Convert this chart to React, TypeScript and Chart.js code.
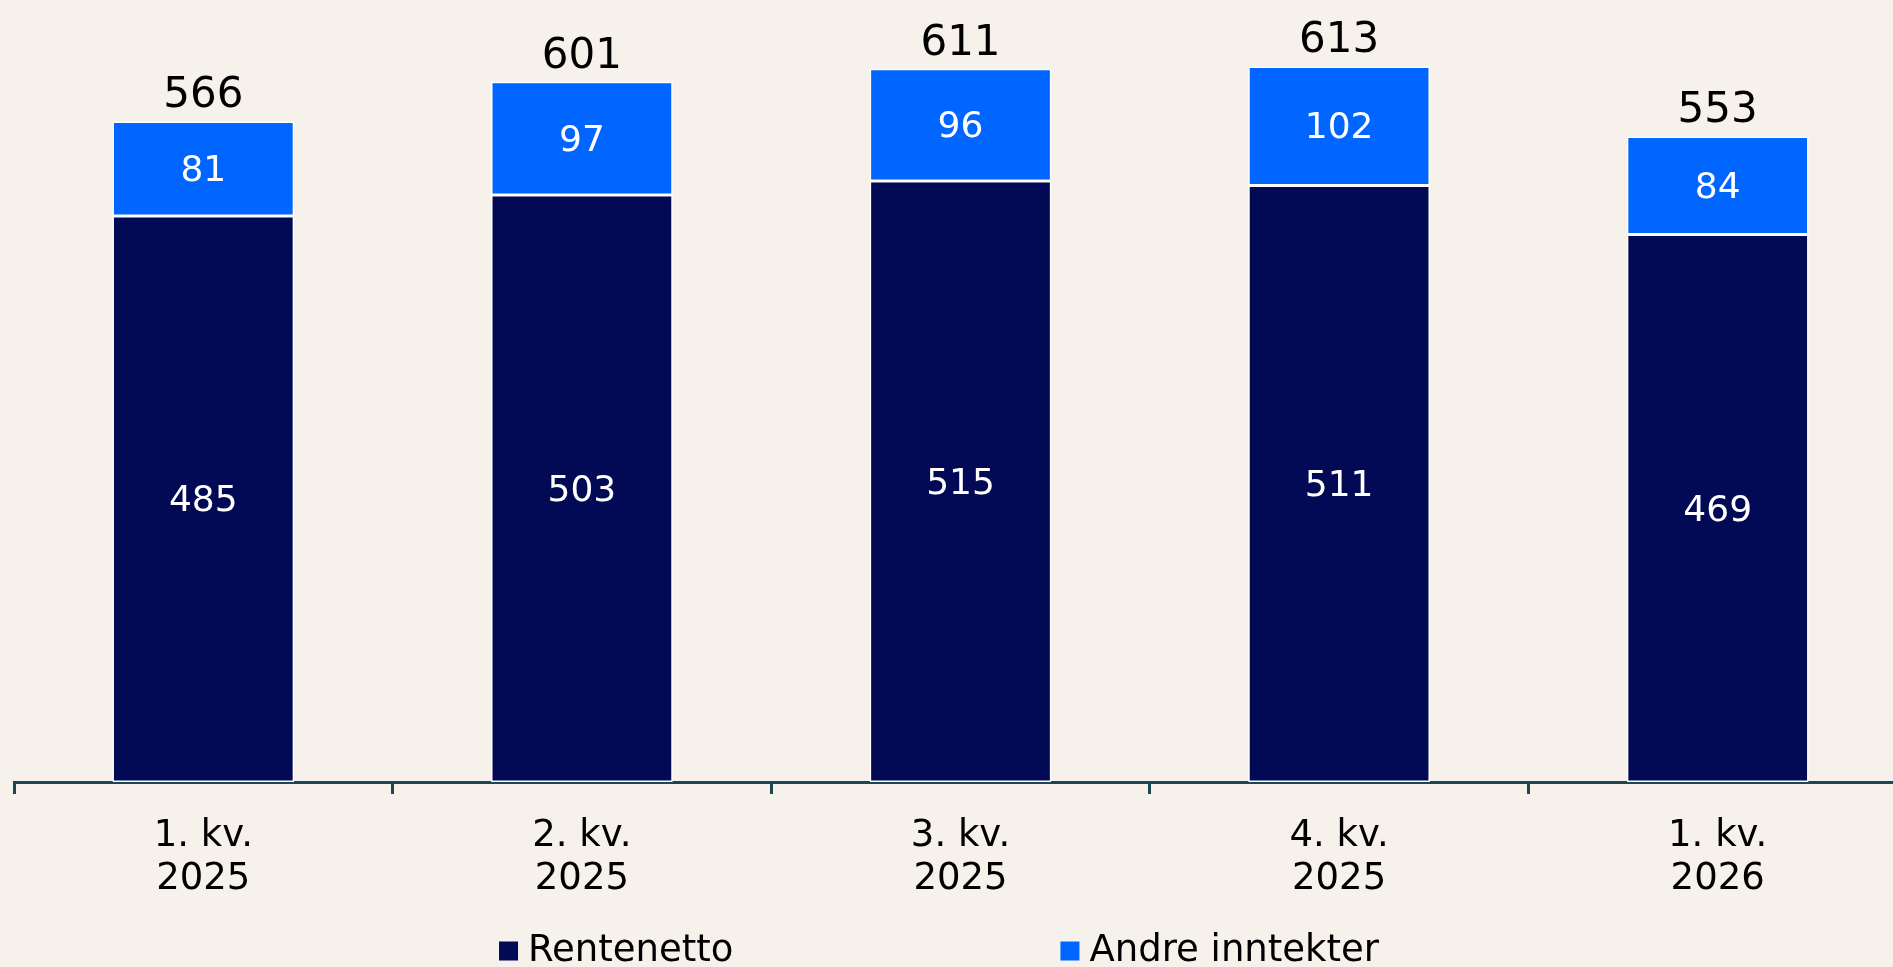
import React, { useEffect, useRef } from "react";
import { Chart, registerables } from "chart.js";

Chart.register(...registerables);

const categories: string[][] = [
  ["1. kv.", "2025"],
  ["2. kv.", "2025"],
  ["3. kv.", "2025"],
  ["4. kv.", "2025"],
  ["1. kv.", "2026"],
];
const rentenetto = [485, 503, 515, 511, 469];
const andreInntekter = [81, 97, 96, 102, 84];
const totals = [566, 601, 611, 613, 553];
const seriesNames = ["Rentenetto", "Andre inntekter"];

const NAVY = "#020a56";
const BLUE = "#0066ff";
const BG = "#f6f2eb";
const AXIS = "#1b4753";
const FONT = "'DejaVu Sans', Verdana, sans-serif";

const valueLabels = {
  id: "valueLabels",
  afterDatasetsDraw(chart: any) {
    const ctx = chart.ctx;
    ctx.save();
    ctx.textAlign = "center";
    ctx.textBaseline = "middle";
    chart.data.datasets.forEach((ds: any, i: number) => {
      const meta = chart.getDatasetMeta(i);
      meta.data.forEach((bar: any, j: number) => {
        const p = bar.getProps(["x", "y", "base"], true);
        ctx.fillStyle = "#ffffff";
        ctx.font = `36px ${FONT}`;
        ctx.fillText(String(ds.data[j]), p.x, (p.y + p.base) / 2 + 3);
      });
    });
    const last = chart.getDatasetMeta(chart.data.datasets.length - 1);
    last.data.forEach((bar: any, j: number) => {
      const p = bar.getProps(["x", "y"], true);
      ctx.fillStyle = "#000000";
      ctx.font = `42px ${FONT}`;
      ctx.fillText(String(totals[j]), p.x, p.y - 25);
    });
    ctx.restore();
  },
};

const customLegend = {
  id: "customLegend",
  afterDraw(chart: any) {
    const ctx = chart.ctx;
    ctx.save();
    ctx.font = `37px ${FONT}`;
    ctx.textBaseline = "middle";
    ctx.textAlign = "left";
    const box = 19;
    const gapText = 10;
    const gapItems = 327;
    const colors = [NAVY, BLUE];
    const widths = seriesNames.map((n) => box + gapText + ctx.measureText(n).width);
    const total = widths.reduce((a, b) => a + b, 0) + gapItems;
    let x = 939 - total / 2;
    const yc = 951;
    seriesNames.forEach((n, i) => {
      ctx.fillStyle = colors[i];
      ctx.fillRect(x, yc - box / 2, box, box);
      ctx.fillStyle = "#000000";
      ctx.fillText(n, x + box + gapText, yc);
      x += widths[i] + gapItems;
    });
    ctx.restore();
  },
};

export default function App() {
  const ref = useRef<HTMLCanvasElement | null>(null);
  useEffect(() => {
    if (!ref.current) return;
    const chart = new Chart(ref.current, {
      type: "bar",
      data: {
        labels: categories,
        datasets: [
          {
            label: seriesNames[0],
            data: rentenetto,
            backgroundColor: NAVY,
            borderColor: "#ffffff",
            borderWidth: 1.5,
            borderSkipped: false,
            categoryPercentage: 1,
            barPercentage: 0.48,
          },
          {
            label: seriesNames[1],
            data: andreInntekter,
            backgroundColor: BLUE,
            borderColor: "#ffffff",
            borderWidth: 1.5,
            borderSkipped: false,
            categoryPercentage: 1,
            barPercentage: 0.48,
          },
        ],
      },
      options: {
        animation: false,
        responsive: false,
        maintainAspectRatio: false,
        layout: { padding: { left: 14, right: 3, top: 0, bottom: 0 } },
        plugins: {
          legend: { display: false },
          tooltip: { enabled: false },
        },
        scales: {
          x: {
            stacked: true,
            offset: true,
            grid: {
              offset: true,
              drawOnChartArea: false,
              drawTicks: true,
              tickLength: 12,
              color: AXIS,
              lineWidth: 3,
            },
            border: { display: true, color: AXIS, width: 3 },
            ticks: {
              color: "#000000",
              padding: 21,
              maxRotation: 0,
              font: { family: FONT, size: 37, lineHeight: 1.16 },
            },
            afterFit: (scale: any) => {
              scale.height = 185;
            },
          },
          y: {
            stacked: true,
            display: false,
            min: 0,
            max: 670,
          },
        },
      },
      plugins: [valueLabels, customLegend],
    });
    return () => chart.destroy();
  }, []);

  return (
    <div
      style={{
        position: "fixed",
        left: 0,
        top: 0,
        width: 1893,
        height: 967,
        overflow: "hidden",
        background: BG,
      }}
    >
      <canvas ref={ref} width={1910} height={967} style={{ width: 1910, height: 967, display: "block" }} />
    </div>
  );
}
